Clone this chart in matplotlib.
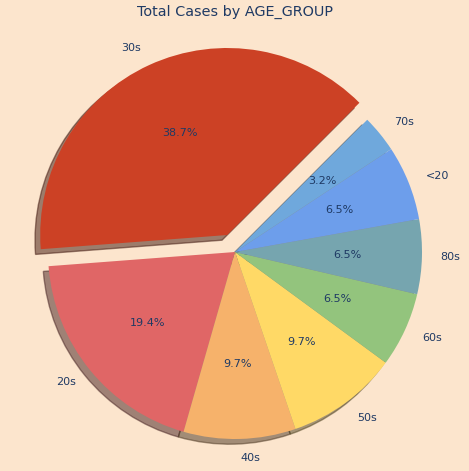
import matplotlib.pyplot as plt

# datos (casos por grupo de edad)
grupos = ["30s", "20s", "40s", "50s", "60s", "80s", "<20", "70s"]
casos = [12, 6, 3, 3, 2, 2, 2, 1]
colores = ["#cc4125", "#e06666", "#f6b26b", "#ffd966",
           "#93c47d", "#76a5af", "#6d9eeb", "#6fa8dc"]
separacion = [0.1, 0, 0, 0, 0, 0, 0, 0]

fondo = "#fce5cd"
texto = "#1f3a64"

fig = plt.figure(figsize=(4.69, 4.71), dpi=100, facecolor=fondo)
# eje colocado a mano: centro (235, 252) px, radio ~187 px
r = 187
ax = fig.add_axes([(235 - 1.25 * r) / 469, (219 - 1.25 * r) / 471,
                   2.5 * r / 469, 2.5 * r / 471])
ax.set_facecolor(fondo)

wedges, labels, pcts = ax.pie(casos, labels=grupos, colors=colores,
                              explode=separacion, autopct="%1.1f%%",
                              startangle=45, shadow=True,
                              textprops={"color": texto, "fontsize": 8})
ax.set_xlim(-1.25, 1.25)
ax.set_ylim(-1.25, 1.25)
ax.set_aspect("equal", adjustable="box")

fig.text(0.5, 1 - 12 / 471, "Total Cases by AGE_GROUP", ha="center", va="center",
         color=texto, fontsize=10.4)

fig.savefig("out.png", dpi=100, facecolor=fondo)
